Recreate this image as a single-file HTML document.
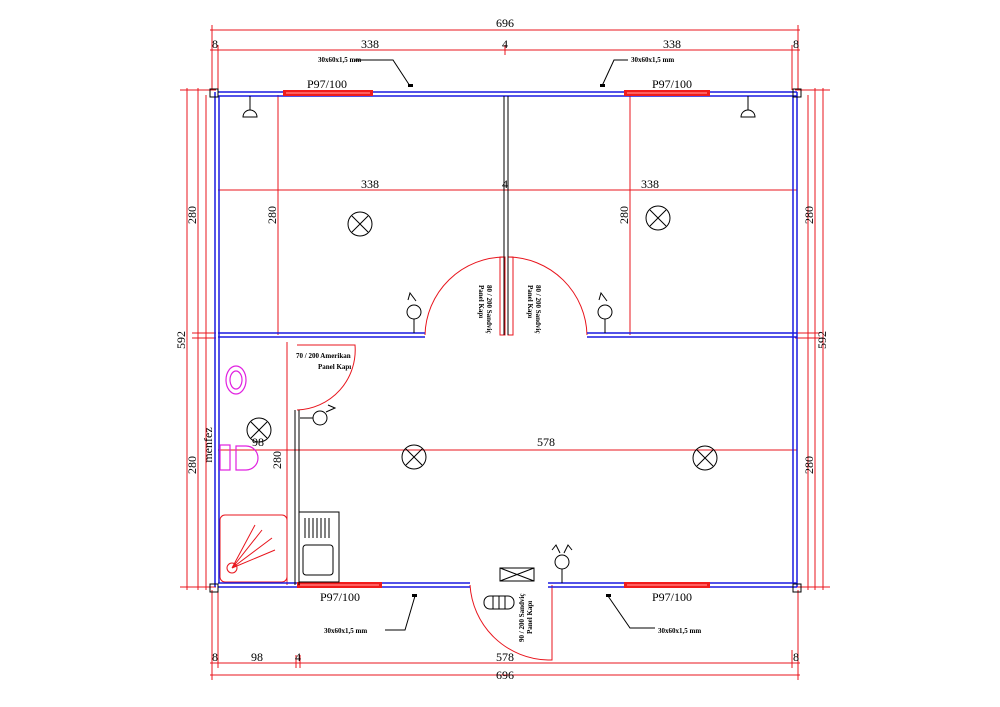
<!DOCTYPE html>
<html><head><meta charset="utf-8"><style>
html,body{margin:0;padding:0;background:#fff;}
svg{display:block;}
text{font-family:"Liberation Serif",serif;}
</style></head><body>
<svg width="1000" height="707" viewBox="0 0 1000 707" xmlns="http://www.w3.org/2000/svg">
<g stroke="#e8141c" stroke-width="1" fill="none">
<line x1="210" y1="30" x2="800" y2="30"/><line x1="210" y1="50" x2="800" y2="50"/>
<line x1="212" y1="25" x2="212" y2="90"/><line x1="218" y1="45" x2="218" y2="90"/>
<line x1="505" y1="45" x2="505" y2="55"/><line x1="798" y1="25" x2="798" y2="90"/><line x1="792" y1="45" x2="792" y2="90"/>
<line x1="210" y1="663" x2="800" y2="663"/><line x1="210" y1="675" x2="800" y2="675"/>
<line x1="212" y1="590" x2="212" y2="680"/><line x1="218" y1="590" x2="218" y2="668"/>
<line x1="296" y1="655" x2="296" y2="668"/><line x1="300" y1="655" x2="300" y2="668"/>
<line x1="798" y1="590" x2="798" y2="680"/><line x1="792" y1="650" x2="792" y2="668"/>
<line x1="187" y1="88" x2="187" y2="590"/><line x1="198" y1="88" x2="198" y2="590"/><line x1="206" y1="95" x2="206" y2="590"/>
<line x1="180" y1="90" x2="216" y2="90"/><line x1="180" y1="587" x2="216" y2="587"/>
<line x1="192" y1="333" x2="216" y2="333"/><line x1="192" y1="338" x2="216" y2="338"/>
<line x1="823" y1="88" x2="823" y2="590"/><line x1="815" y1="88" x2="815" y2="590"/><line x1="808" y1="95" x2="808" y2="590"/>
<line x1="795" y1="90" x2="830" y2="90"/><line x1="795" y1="587" x2="830" y2="587"/>
<line x1="795" y1="333" x2="820" y2="333"/><line x1="795" y1="338" x2="820" y2="338"/>
<line x1="218" y1="190" x2="797" y2="190"/>
<line x1="278" y1="95" x2="278" y2="335"/><line x1="630" y1="95" x2="630" y2="335"/>
<line x1="287" y1="342" x2="287" y2="585"/>
<line x1="218" y1="450" x2="797" y2="450"/>
<path d="M425 335 A80 80 0 0 1 505 257"/><path d="M587 335 A80 80 0 0 0 508 257"/>
<rect x="500" y="257" width="5" height="78"/><rect x="508" y="257" width="5" height="78"/>
<path d="M297 345 L355 345 A60 60 0 0 1 297 410"/>
<path d="M470 585 A80 80 0 0 0 548 660 L552 660 L552 585"/>
<rect x="220" y="515" width="67" height="67" rx="5"/>
<path d="M232 568 L262 530 M232 568 L272 538 M232 568 L275 550 M232 568 L255 525"/>
<circle cx="232" cy="568" r="5"/>
</g>
<g stroke="#1a1ae0" stroke-width="1.5" fill="none">
<line x1="218" y1="92" x2="797" y2="92"/><line x1="218" y1="96" x2="797" y2="96"/>
<line x1="215" y1="92" x2="215" y2="587"/><line x1="219" y1="96" x2="219" y2="583"/>
<line x1="797" y1="92" x2="797" y2="587"/><line x1="793" y1="96" x2="793" y2="583"/>
<line x1="218" y1="583" x2="470" y2="583"/><line x1="218" y1="587" x2="470" y2="587"/>
<line x1="548" y1="583" x2="797" y2="583"/><line x1="548" y1="587" x2="797" y2="587"/>
<line x1="218" y1="333" x2="425" y2="333"/><line x1="218" y1="337" x2="425" y2="337"/>
<line x1="587" y1="333" x2="797" y2="333"/><line x1="587" y1="337" x2="797" y2="337"/>
</g>
<g fill="#f01c1c">
<rect x="283" y="90" width="90" height="6"/><rect x="624" y="90" width="86" height="6"/>
<rect x="297" y="582" width="85" height="6"/><rect x="624" y="582" width="86" height="6"/>
</g>
<g fill="#ff6060">
<rect x="286" y="92" width="84" height="2"/><rect x="627" y="92" width="80" height="2"/>
<rect x="300" y="584" width="79" height="2"/><rect x="627" y="584" width="80" height="2"/>
</g>
<g stroke="#000" stroke-width="1" fill="none">
<rect x="210" y="89" width="8" height="8"/><rect x="793" y="89" width="8" height="8"/>
<rect x="210" y="584" width="8" height="8"/><rect x="793" y="584" width="8" height="8"/>
<line x1="504" y1="96" x2="504" y2="335"/><line x1="508" y1="96" x2="508" y2="335"/>
<line x1="295" y1="410" x2="295" y2="585"/><line x1="299" y1="410" x2="299" y2="585"/>
<circle cx="360" cy="224" r="12"/><path d="M352 216 L368 232 M368 216 L352 232"/>
<circle cx="658" cy="218" r="12"/><path d="M650 210 L666 226 M666 210 L650 226"/>
<circle cx="259" cy="430" r="12"/><path d="M251 422 L267 438 M267 422 L251 438"/>
<circle cx="414" cy="457" r="12"/><path d="M406 449 L422 465 M422 449 L406 465"/>
<circle cx="705" cy="458" r="12"/><path d="M697 450 L713 466 M713 450 L697 466"/>
<circle cx="414" cy="312" r="7"/><line x1="414" y1="319" x2="414" y2="333"/><path d="M408 300 L410 293 L416 301"/>
<circle cx="605" cy="312" r="7"/><line x1="605" y1="319" x2="605" y2="333"/><path d="M599 300 L601 293 L607 301"/>
<circle cx="320" cy="418" r="7"/><line x1="300" y1="418" x2="313" y2="418"/><path d="M326 412 L335 408 L328 405"/>
<circle cx="562" cy="562" r="7"/><line x1="562" y1="569" x2="562" y2="583"/><path d="M552 550 L556 545 L560 553 M564 553 L568 545 L572 550"/>
<line x1="250" y1="96" x2="250" y2="110"/><path d="M243 117 A7 7 0 0 1 257 117 Z"/>
<line x1="748" y1="96" x2="748" y2="110"/><path d="M741 117 A7 7 0 0 1 755 117 Z"/>
<rect x="299" y="512" width="40" height="70"/><rect x="303" y="545" width="30" height="30" rx="3"/>
<path d="M305 518v20M309 518v20M313 518v20M317 518v20M321 518v20M325 518v20M329 518v20"/>
<rect x="500" y="568" width="34" height="13"/><path d="M500 568 L534 581 M534 568 L500 581"/>
<rect x="484" y="596" width="30" height="13" rx="6"/><path d="M493 596v13M499 596v13M505 596v13"/>
<path d="M355 60 L393 60 L410 86 M628 60 L614 60 L602 86 M385 630 L405 630 L415 596 M655 628 L630 628 L608 596"/>
</g>
<g fill="#000"><rect x="408" y="84" width="5" height="3"/><rect x="600" y="84" width="5" height="3"/><rect x="412" y="594" width="5" height="3"/><rect x="606" y="594" width="5" height="3"/></g>
<g stroke="#e020e0" stroke-width="1.2" fill="none">
<ellipse cx="236" cy="380" rx="10" ry="14"/><ellipse cx="236" cy="380" rx="6" ry="9"/>
<rect x="220" y="445" width="10" height="25"/><path d="M236 446 L246 446 A12 12 0 0 1 246 470 L236 470 Z"/>
</g>
<g font-size="12" fill="#000" text-anchor="middle">
<text x="505" y="27">696</text><text x="370" y="48">338</text><text x="672" y="48">338</text>
<text x="505" y="48">4</text><text x="215" y="48">8</text><text x="796" y="48">8</text>
<text x="327" y="88">P97/100</text><text x="672" y="88">P97/100</text>
<text x="370" y="188">338</text><text x="650" y="188">338</text><text x="505" y="188">4</text>
<text x="546" y="446">578</text><text x="258" y="446">98</text>
<text x="340" y="601">P97/100</text><text x="672" y="601">P97/100</text>
<text x="505" y="661">578</text><text x="505" y="679">696</text>
<text x="257" y="661">98</text><text x="215" y="661">8</text><text x="298" y="661">4</text><text x="796" y="661">8</text>
<text transform="translate(185,340) rotate(-90)">592</text>
<text transform="translate(196,215) rotate(-90)">280</text>
<text transform="translate(196,465) rotate(-90)">280</text>
<text transform="translate(276,215) rotate(-90)">280</text>
<text transform="translate(628,215) rotate(-90)">280</text>
<text transform="translate(281,460) rotate(-90)">280</text>
<text transform="translate(212,445) rotate(-90)">menfez</text>
<text transform="translate(813,215) rotate(-90)">280</text>
<text transform="translate(813,465) rotate(-90)">280</text>
<text transform="translate(826,340) rotate(-90)">592</text>
</g>
<g font-size="7" fill="#000" font-weight="bold">
<text x="318" y="62">30x60x1,5 mm</text><text x="631" y="62">30x60x1,5 mm</text>
<text x="324" y="633">30x60x1,5 mm</text><text x="658" y="633">30x60x1,5 mm</text>
<text x="296" y="358">70 / 200 Amerikan</text><text x="318" y="369">Panel Kapı</text>
<text transform="translate(487,285) rotate(90)">80 / 200 Sandviç</text><text transform="translate(479,285) rotate(90)">Panel Kapı</text>
<text transform="translate(536,285) rotate(90)">80 / 200 Sandviç</text><text transform="translate(528,285) rotate(90)">Panel Kapı</text>
<text transform="translate(524,642) rotate(-90)">90 / 200 Sandviç</text>
<text transform="translate(532,634) rotate(-90)">Panel Kapı</text>
</g>
</svg>
</body></html>
